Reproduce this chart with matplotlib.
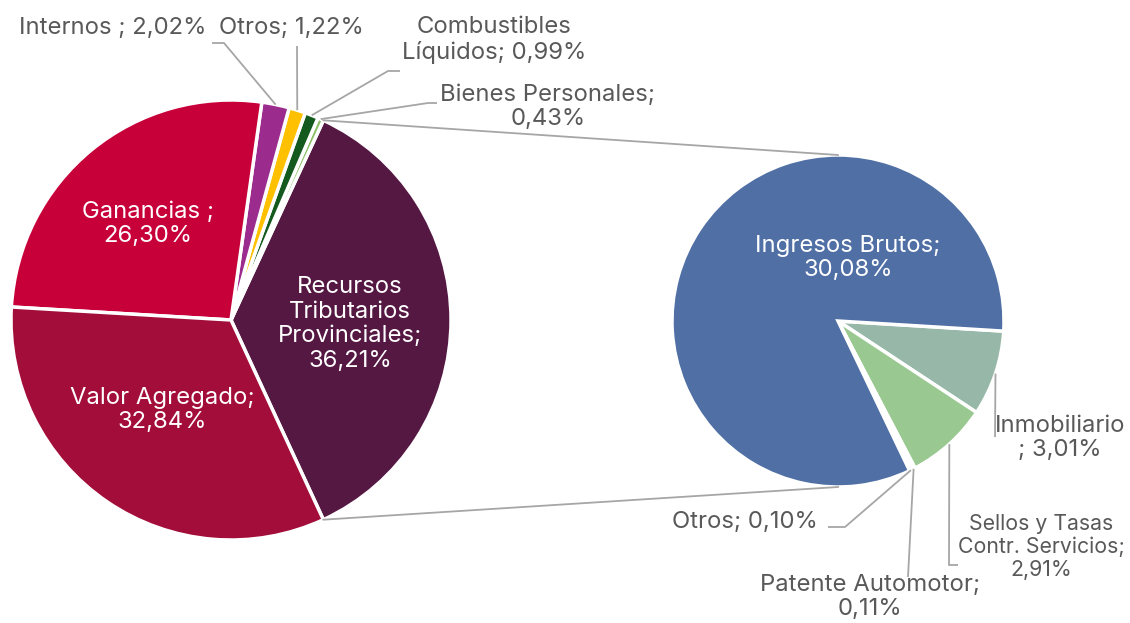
import numpy as np
import matplotlib.pyplot as plt

plt.rcParams['font.family'] = ['Inter', 'DejaVu Sans']

W, H = 1130, 623

# main pie (counter-clockwise from the split slice)
main_names = ['Recursos\nTributarios\nProvinciales;\n', 'Bienes Personales;\n', 'Combustibles\nLíquidos; ',
              'Otros; ', 'Internos ; ', 'Ganancias ;\n', 'Valor Agregado;\n']
main_values = [36.21, 0.43, 0.99, 1.22, 2.02, 26.30, 32.84]
main_colors = ['#551843', '#8CC168', '#145A1E', '#FFC000', '#9C2B8E', '#C8003A', '#A30D3A']

# secondary pie (clockwise), breakdown of Recursos Tributarios Provinciales
sub_names = ['Inmobiliario\n; ', 'Sellos y Tasas\nContr. Servicios;\n', 'Patente Automotor;\n',
             'Otros; ', 'Ingresos Brutos;\n']
sub_values = [3.01, 2.91, 0.11, 0.10, 30.08]
sub_colors = ['#97B8A8', '#99C991', '#C9D9A9', '#7F9FD0', '#4F6FA5']

GRAY = '#595959'
LINE = '#A6A6A6'
FS = 17.2


def pct(v):
    return f"{v:.2f}".replace('.', ',') + '%'


def iy(y):
    # image y (top down) -> axes y
    return H - y


fig = plt.figure(figsize=(W / 100, H / 100), dpi=100)
ax = fig.add_axes([0, 0, 1, 1])

c1, r1 = (231, iy(320)), 220
c2, r2 = (838, iy(321)), 166

start1 = -main_values[0] * 3.6 / 2
w1, _ = ax.pie(main_values, colors=main_colors, center=c1, radius=r1, startangle=start1,
               explode=[0.028, 0, 0, 0, 0, 0, 0], frame=True,
               wedgeprops=dict(edgecolor='white', linewidth=2.5))

w2, _ = ax.pie(sub_values, colors=sub_colors, center=c2, radius=r2, startangle=-3.5,
               counterclock=False, explode=[0.03, 0.03, 0.03, 0.03, 0], frame=True,
               wedgeprops=dict(edgecolor='white', linewidth=2.5))
ax.set_xlim(0, W)
ax.set_ylim(0, H)
ax.set_aspect('equal')
ax.axis('off')


def edge_point(w, frac=1.0):
    a = np.deg2rad((w.theta1 + w.theta2) / 2)
    return (w.center[0] + w.r * frac * np.cos(a), w.center[1] + w.r * frac * np.sin(a))


# label positions (image coords) and leader elbows
main_pos = [(350, 324), (548, 107), (494, 40), (291, 28), (113, 28), (148, 224), (162, 410)]
main_inside = [True, False, False, False, False, True, True]
main_fs = [FS] * 7
main_lead = [None, [(428, 103), (437, 103)], [(388, 71), (400, 71)], [(297, 46)],
             [(224, 43), (212, 43)], None, None]

sub_pos = [(1060, 438), (1041, 547), (870, 597), (745, 522), (848, 258)]
sub_inside = [False, False, False, False, True]
sub_fs = [FS, 15.3, FS, FS, FS]
sub_lead = [[(995, 437)], [(949, 565), (958, 565)], [(908, 577)], [(845, 527), (828, 527)], None]

for wedges, names, vals, pos, inside, sizes, leads in [
        (w1, main_names, main_values, main_pos, main_inside, main_fs, main_lead),
        (w2, sub_names, sub_values, sub_pos, sub_inside, sub_fs, sub_lead)]:
    for w, n, v, p, ins, fs, ld in zip(wedges, names, vals, pos, inside, sizes, leads):
        ax.text(p[0], iy(p[1]), n + pct(v), ha='center', va='center', fontsize=fs,
                color='white' if ins else GRAY, linespacing=1.15)
        if ld:
            pts = [edge_point(w)] + [(x, iy(y)) for x, y in ld]
            xs, ys = zip(*pts)
            ax.plot(xs, ys, color=LINE, lw=1.3, solid_capstyle='butt')

# connector lines from the split slice to the secondary pie
rec = w1[0]
for th, yy in [(rec.theta2, c2[1] + r2), (rec.theta1, c2[1] - r2)]:
    a = np.deg2rad(th)
    x0 = rec.center[0] + rec.r * np.cos(a)
    y0 = rec.center[1] + rec.r * np.sin(a)
    ax.plot([x0, c2[0]], [y0, yy], color=LINE, lw=1.3)

fig.savefig('out.png', dpi=100)
